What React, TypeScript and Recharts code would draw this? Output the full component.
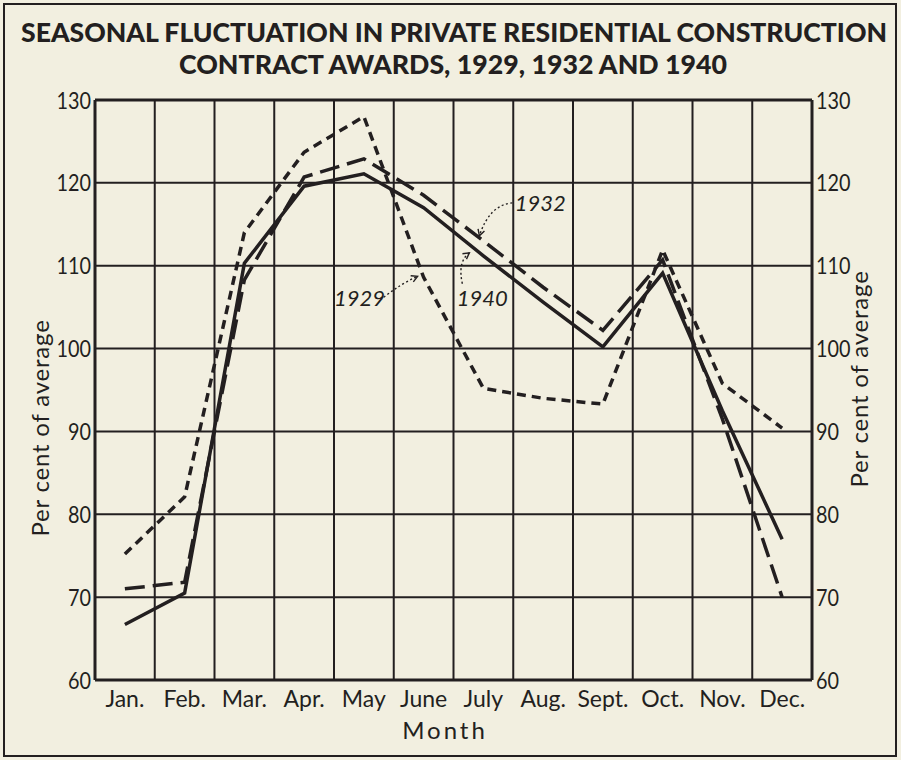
import React from "react";
import {
  LineChart,
  Line,
  XAxis,
  YAxis,
  ReferenceLine,
  ReferenceDot,
} from "recharts";

const months = ["Jan.", "Feb.", "Mar.", "Apr.", "May", "June", "July", "Aug.", "Sept.", "Oct.", "Nov.", "Dec."];
const monthPos = [0.5, 1.5, 2.5, 3.5, 4.5, 5.5, 6.5, 7.5, 8.5, 9.5, 10.5, 11.5];
const gridX = [0, 1, 2, 3, 4, 5, 6, 7, 8, 9, 10, 11, 12];
const yTicks = [60, 70, 80, 90, 100, 110, 120, 130];

const y1929 = [75.2, 82.1, 114, 123.7, 128, 108.6, 95.2, 94, 93.3, 111.9, 95.8, 90.4];
const y1932 = [71, 71.8, 108.3, 120.7, 122.9, 118.5, 113, 107.4, 102.2, 110.7, 91.5, 70];
const y1940 = [66.7, 70.5, 110.3, 119.6, 121.1, 117, 111.2, 105.6, 100.2, 109.1, 92.5, 77];

const data = months.map((m, i) => ({
  x: monthPos[i],
  month: m,
  y1929: y1929[i],
  y1932: y1932[i],
  y1940: y1940[i],
}));

const INK = "#231f20";
const PAPER = "#f2efe0";
const FONT = "Lato, 'DejaVu Sans', sans-serif";

// narrow numerals like the hand lettering of the original
function NumTick(props: any) {
  const { x, y, payload, side } = props;
  const s = String(payload.value);
  return (
    <text
      x={side === "left" ? x - 2 : x + 2}
      y={y}
      dy="0.36em"
      textAnchor={side === "left" ? "end" : "start"}
      fontFamily={FONT}
      fontSize={24}
      fill={INK}
      textLength={s.length * 11.5}
      lengthAdjust="spacingAndGlyphs"
    >
      {s}
    </text>
  );
}

// small dotted pointer with a label, drawn relative to a data point
function pointer(
  label: string,
  text: [number, number],
  tail: [number, number],
  ctrl: [number, number],
  tip: [number, number]
) {
  return (props: any) => {
    const { cx, cy } = props;
    if (cx == null || cy == null) return <g />;
    const tx = cx + tip[0];
    const ty = cy + tip[1];
    const ang = Math.atan2(tip[1] - ctrl[1], tip[0] - ctrl[0]);
    const len = 7;
    const a1 = ang + Math.PI - 0.5;
    const a2 = ang + Math.PI + 0.5;
    return (
      <g>
        <path
          d={`M${cx + tail[0]},${cy + tail[1]} Q${cx + ctrl[0]},${cy + ctrl[1]} ${tx},${ty}`}
          fill="none"
          stroke={INK}
          strokeWidth={1.4}
          strokeDasharray="2 2.5"
        />
        <polyline
          points={`${tx + len * Math.cos(a1)},${ty + len * Math.sin(a1)} ${tx},${ty} ${tx + len * Math.cos(a2)},${ty + len * Math.sin(a2)}`}
          fill="none"
          stroke={INK}
          strokeWidth={1.4}
        />
        <text
          x={cx + text[0]}
          y={cy + text[1]}
          textAnchor="middle"
          fontFamily={FONT}
          fontStyle="italic"
          fontSize={22}
          fill={INK}
        >
          {label}
        </text>
      </g>
    );
  };
}

export default function App() {
  return (
    <div
      style={{
        position: "absolute",
        left: 0,
        top: 0,
        width: 901,
        height: 760,
        background: PAPER,
      }}
    >
      <LineChart
        width={901}
        height={760}
        data={data}
        margin={{ top: 100, right: 29, bottom: 50, left: 35 }}
      >
        <XAxis
          type="number"
          dataKey="x"
          domain={[0, 12]}
          ticks={monthPos}
          interval={0}
          tickFormatter={(v: number) => months[Math.round(v - 0.5)]}
          axisLine={false}
          tickLine={false}
          tickSize={0}
          tickMargin={11}
          height={30}
          tick={{ fill: INK, fontSize: 23, fontFamily: FONT }}
        />
        <YAxis
          yAxisId="left"
          domain={[60, 130]}
          allowDataOverflow
          ticks={yTicks}
          interval={0}
          axisLine={false}
          tickLine={false}
          tickSize={0}
          tickMargin={2}
          width={60}
          tick={<NumTick side="left" />}
        />
        <YAxis
          yAxisId="right"
          orientation="right"
          domain={[60, 130]}
          allowDataOverflow
          ticks={yTicks}
          interval={0}
          axisLine={false}
          tickLine={false}
          tickSize={0}
          tickMargin={2}
          width={60}
          tick={<NumTick side="right" />}
        />
        {gridX.map((g) => (
          <ReferenceLine
            key={`gx${g}`}
            yAxisId="left"
            x={g}
            stroke={INK}
            strokeWidth={g === 0 || g === 12 ? 3 : 2}
          />
        ))}
        {yTicks.map((t) => (
          <ReferenceLine
            key={`gy${t}`}
            yAxisId="right"
            y={t}
            stroke={INK}
            strokeWidth={t === 60 || t === 130 ? 3 : 2}
          />
        ))}
        <Line
          yAxisId="left"
          type="linear"
          dataKey="y1929"
          stroke={INK}
          strokeWidth={3.5}
          strokeDasharray="9 6"
          dot={false}
          isAnimationActive={false}
        />
        <Line
          yAxisId="left"
          type="linear"
          dataKey="y1932"
          stroke={INK}
          strokeWidth={3.5}
          strokeDasharray="20 8"
          dot={false}
          isAnimationActive={false}
        />
        <Line
          yAxisId="left"
          type="linear"
          dataKey="y1940"
          stroke={INK}
          strokeWidth={3.5}
          dot={false}
          isAnimationActive={false}
        />
        <ReferenceDot
          yAxisId="left"
          x={monthPos[5]}
          y={y1929[5]}
          r={0}
          shape={pointer("1929", [-64, 29], [-40, 20], [-22, 6], [-6, -1])}
        />
        <ReferenceDot
          yAxisId="left"
          x={monthPos[6]}
          y={y1940[6]}
          r={0}
          shape={pointer("1940", [-1, 50], [-21, 28], [-26, 6], [-14, -3])}
        />
        <ReferenceDot
          yAxisId="left"
          x={monthPos[6]}
          y={y1932[6]}
          r={0}
          shape={pointer("1932", [57, -30], [29, -38], [6, -36], [-4, -5])}
        />
      </LineChart>
      <svg
        width={901}
        height={760}
        style={{ position: "absolute", left: 0, top: 0, pointerEvents: "none" }}
      >
        <rect x={4} y={4} width={892} height={752} fill="none" stroke={INK} strokeWidth={2} />
        <text
          x={454}
          y={42}
          textAnchor="middle"
          fontFamily={FONT}
          fontWeight={900}
          fontSize={26}
          fill={INK}
          textLength={866}
          lengthAdjust="spacingAndGlyphs"
        >
          SEASONAL FLUCTUATION IN PRIVATE RESIDENTIAL CONSTRUCTION
        </text>
        <text
          x={453}
          y={74}
          textAnchor="middle"
          fontFamily={FONT}
          fontWeight={900}
          fontSize={26}
          fill={INK}
          textLength={548}
          lengthAdjust="spacingAndGlyphs"
        >
          CONTRACT AWARDS, 1929, 1932 AND 1940
        </text>
        <text
          transform="translate(49,428) rotate(-90)"
          textAnchor="middle"
          fontFamily={FONT}
          fontSize={24}
          letterSpacing={0.8}
          fill={INK}
        >
          Per cent of average
        </text>
        <text
          transform="translate(868,379) rotate(-90)"
          textAnchor="middle"
          fontFamily={FONT}
          fontSize={24}
          letterSpacing={0.8}
          fill={INK}
        >
          Per cent of average
        </text>
        <text
          x={445}
          y={739}
          textAnchor="middle"
          fontFamily={FONT}
          fontSize={24}
          letterSpacing={3}
          fill={INK}
        >
          Month
        </text>
      </svg>
    </div>
  );
}
